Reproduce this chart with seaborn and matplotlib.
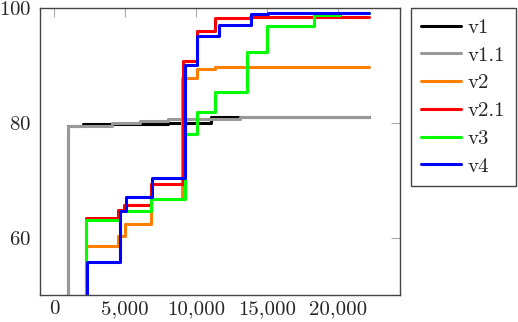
import pandas as pd
import matplotlib.pyplot as plt
import matplotlib.ticker as mticker
import seaborn as sns

# step curves (x = step position, y = value after the step)
versions = ['v1', 'v1.1', 'v2', 'v2.1', 'v3', 'v4']
colors = ['#000000', '#999999', '#ff8000', '#ff0000', '#00ff00', '#0000ff']

v1_x = [1000, 1000, 2000, 8050, 11100, 22200]
v1_y = [40, 79.5, 79.8, 80.0, 81.0, 81.0]

v11_x = [1000, 1000, 4050, 6050, 8050, 13100, 22200]
v11_y = [40, 79.5, 79.9, 80.4, 80.7, 81.0, 81.0]

v2_x = [2250, 2250, 4500, 5000, 6800, 9050, 10050, 11340, 22200]
v2_y = [40, 58.6, 60.2, 62.3, 66.7, 87.8, 89.4, 89.7, 89.7]

v21_x = [2250, 2250, 4500, 4900, 6800, 9060, 10050, 11340, 13800, 22200]
v21_y = [40, 63.4, 64.8, 65.6, 69.4, 90.7, 96.0, 98.2, 98.5, 98.5]

v3_x = [2250, 2250, 4650, 6800, 9200, 10050, 11340, 13640, 15030, 18310, 20140, 22200]
v3_y = [40, 63.0, 64.6, 66.7, 78.1, 81.8, 85.3, 92.4, 96.8, 98.8, 99.1, 99.1]

v4_x = [2350, 2350, 4650, 5070, 6900, 9220, 10050, 11650, 13920, 15070, 22200]
v4_y = [40, 55.7, 64.7, 67.0, 70.3, 90.1, 95.1, 97.0, 99.0, 99.2, 99.2]

all_x = [v1_x, v11_x, v2_x, v21_x, v3_x, v4_x]
all_y = [v1_y, v11_y, v2_y, v21_y, v3_y, v4_y]

rows = []
for name, xs, ys in zip(versions, all_x, all_y):
    for x, y in zip(xs, ys):
        rows.append({'step': x, 'value': y, 'version': name})
df = pd.DataFrame(rows)

sns.set_style('white')
plt.rcParams['font.family'] = ['cmr10', 'DejaVu Serif']
plt.rcParams['axes.formatter.use_mathtext'] = True

fig = plt.figure(figsize=(5.18, 3.22), dpi=100)
ax = fig.add_axes([40 / 518, 1 - 295 / 322, 360 / 518, 287 / 322])

sns.lineplot(data=df, x='step', y='value', hue='version', hue_order=versions,
             palette=colors, estimator=None, sort=False, linewidth=2.2,
             drawstyle='steps-post', ax=ax)

ax.set_xlim(-1000, 24400)
ax.set_ylim(50, 100)
ax.set_xticks([0, 5000, 10000, 15000, 20000])
ax.set_yticks([60, 80, 100])
ax.xaxis.set_major_formatter(mticker.FuncFormatter(lambda v, p: f'{v:,.0f}'))
ax.set_xlabel('')
ax.set_ylabel('')
ax.tick_params(direction='in', length=6.5, width=0.8, color='#aaaaaa',
               top=True, right=True, labelsize=15)
ax.tick_params(axis='x', pad=4)
ax.tick_params(axis='y', pad=6.5)
for s in ax.spines.values():
    s.set_color('#444444')
    s.set_linewidth(1.0)

handles, labels = ax.get_legend_handles_labels()
ax.get_legend().remove()
leg = fig.legend(handles, labels, loc='upper left',
                 bbox_to_anchor=(411 / 518, 1 - 8 / 322), borderaxespad=0,
                 fancybox=False, framealpha=1, edgecolor='#444444',
                 fontsize=15, handlelength=1.92, labelspacing=0.44,
                 borderpad=0.5, handletextpad=0.3)
leg.get_frame().set_linewidth(1.0)

plt.savefig('out.png', dpi=100)
